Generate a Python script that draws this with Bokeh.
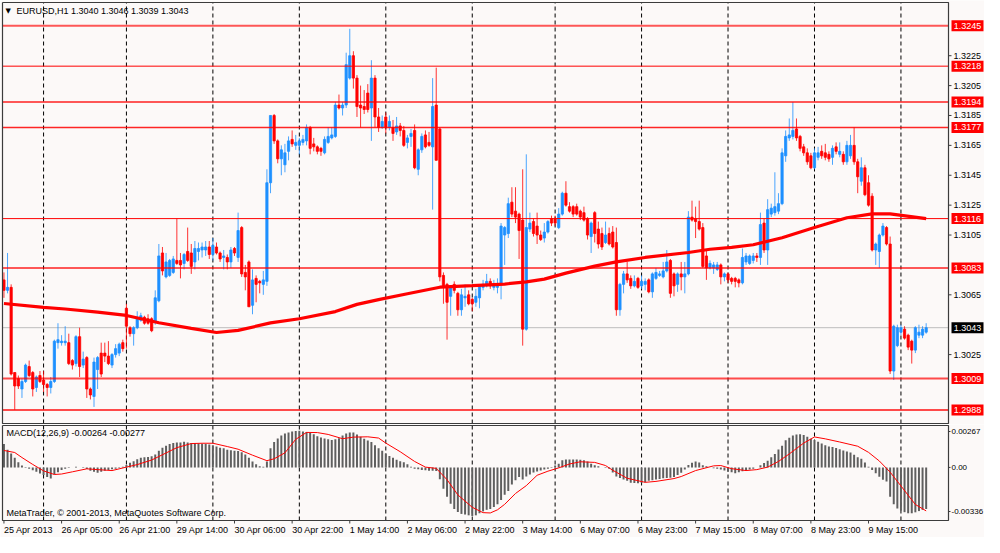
import numpy as np
from bokeh.plotting import figure
from bokeh.models import Range1d
from bokeh.layouts import column
from bokeh.embed import file_html
from bokeh.resources import INLINE
from bokeh.core.properties import value

# ---------------- data (prices in 1e-4 units, e.g. 13043 -> 1.3043) ----------------
symbol = "EURUSD"
timeframe = "H1"

opens = [
    13075, 13068, 13070, 13013, 13009, 13002, 13007, 13017, 13013, 13003,
    13011, 13008, 13005, 13003, 13007, 13033, 13033, 13033, 13033, 13021,
    13019, 13037, 13018, 13023, 13002, 12997, 13015, 13026, 13026, 13024,
    13018, 13025, 13026, 13033, 13056, 13043, 13039, 13043, 13048, 13050,
    13049, 13049, 13047, 13061, 13093, 13077, 13078, 13080, 13088, 13088,
    13086, 13094, 13093, 13087, 13094, 13095, 13095, 13097, 13092, 13097,
    13093, 13090, 13090, 13087, 13096, 13090, 13110, 13080, 13087, 13058,
    13076, 13074, 13072, 13074, 13140, 13185, 13168, 13156, 13152, 13161,
    13169, 13165, 13165, 13167, 13168, 13177, 13166, 13164, 13163, 13160,
    13167, 13170, 13171, 13192, 13190, 13192, 13210, 13225, 13210, 13192,
    13191, 13200, 13190, 13210, 13184, 13177, 13184, 13177, 13177, 13174,
    13178, 13175, 13167, 13171, 13175, 13149, 13162, 13172, 13167, 13164,
    13192, 13176, 13078, 13072, 13064, 13072, 13066, 13055, 13063, 13065,
    13062, 13060, 13063, 13070, 13071, 13074, 13070, 13070, 13072, 13105,
    13106, 13127, 13121, 13119, 13115, 13042, 13109, 13114, 13111, 13105,
    13103, 13107, 13116, 13116, 13110, 13119, 13133, 13124, 13124, 13124,
    13121, 13120, 13116, 13104, 13120, 13109, 13106, 13100, 13106, 13107,
    13100, 13055, 13072, 13079, 13076, 13071, 13076, 13071, 13072, 13075,
    13067, 13076, 13078, 13077, 13081, 13088, 13079, 13072, 13079, 13077,
    13079, 13117, 13116, 13114, 13110, 13091, 13083, 13083, 13082, 13085,
    13077, 13079, 13076, 13076, 13075, 13073, 13087, 13086, 13088, 13091,
    13090, 13113, 13095, 13119, 13120, 13121, 13126, 13158, 13170, 13171,
    13176, 13171, 13164, 13160, 13158, 13150, 13157, 13161, 13160, 13159,
    13157, 13164, 13159, 13159, 13154, 13158, 13165, 13154, 13141, 13150,
    13140, 13131, 13095, 13094, 13105, 13110, 13099, 13014, 13031, 13040,
    13042, 13038, 13034, 13028, 13038, 13038, 13040,
]
highs = [
    13080, 13093, 13072, 13013, 13011, 13009, 13019, 13021, 13014, 13011,
    13014, 13014, 13006, 13010, 13035, 13046, 13038, 13044, 13039, 13022,
    13038, 13043, 13027, 13024, 13003, 13023, 13024, 13033, 13033, 13034,
    13026, 13032, 13033, 13035, 13059, 13044, 13044, 13054, 13053, 13051,
    13052, 13050, 13068, 13099, 13097, 13093, 13089, 13091, 13116, 13093,
    13093, 13110, 13099, 13101, 13100, 13100, 13101, 13101, 13103, 13100,
    13094, 13095, 13092, 13097, 13097, 13120, 13111, 13085, 13088, 13082,
    13078, 13075, 13081, 13149, 13185, 13186, 13169, 13165, 13166, 13171,
    13175, 13172, 13170, 13172, 13179, 13178, 13170, 13165, 13164, 13171,
    13177, 13177, 13194, 13199, 13194, 13227, 13243, 13228, 13212, 13205,
    13202, 13206, 13222, 13212, 13190, 13185, 13187, 13185, 13182, 13184,
    13180, 13178, 13172, 13176, 13179, 13163, 13173, 13175, 13174, 13210,
    13217, 13177, 13080, 13073, 13071, 13074, 13067, 13069, 13072, 13068,
    13063, 13069, 13072, 13075, 13079, 13076, 13075, 13076, 13113, 13111,
    13130, 13137, 13137, 13120, 13149, 13159, 13120, 13116, 13120, 13108,
    13113, 13115, 13118, 13118, 13123, 13134, 13141, 13127, 13125, 13126,
    13122, 13124, 13117, 13114, 13121, 13114, 13110, 13114, 13110, 13111,
    13110, 13073, 13081, 13087, 13078, 13078, 13077, 13078, 13076, 13076,
    13080, 13083, 13081, 13087, 13095, 13089, 13080, 13080, 13087, 13087,
    13121, 13128, 13124, 13128, 13113, 13095, 13088, 13087, 13087, 13086,
    13080, 13080, 13077, 13077, 13076, 13096, 13093, 13092, 13093, 13093,
    13120, 13116, 13129, 13126, 13147, 13133, 13163, 13175, 13183, 13194,
    13183, 13172, 13166, 13163, 13160, 13163, 13164, 13165, 13166, 13161,
    13165, 13167, 13167, 13161, 13168, 13172, 13177, 13156, 13157, 13152,
    13145, 13133, 13100, 13106, 13113, 13111, 13104, 13045, 13045, 13045,
    13044, 13039, 13035, 13044, 13045, 13044, 13046,
]
lows = [
    13063, 13066, 13011, 12988, 13002, 12996, 13006, 13010, 12997, 13000,
    13006, 13000, 12997, 12999, 13006, 13029, 13031, 13031, 13018, 13015,
    13017, 13010, 13016, 12996, 12995, 12990, 13002, 13010, 13020, 13018,
    13016, 13023, 13024, 13027, 13029, 13037, 13031, 13042, 13047, 13045,
    13045, 13040, 13045, 13060, 13078, 13076, 13077, 13079, 13085, 13076,
    13082, 13087, 13079, 13082, 13088, 13090, 13091, 13089, 13088, 13092,
    13087, 13082, 13082, 13083, 13091, 13087, 13077, 13068, 13057, 13052,
    13060, 13066, 13065, 13071, 13133, 13166, 13153, 13145, 13147, 13155,
    13164, 13162, 13159, 13165, 13165, 13159, 13161, 13159, 13158, 13159,
    13166, 13169, 13170, 13189, 13185, 13190, 13209, 13203, 13184, 13177,
    13186, 13187, 13168, 13177, 13174, 13176, 13173, 13175, 13168, 13172,
    13171, 13164, 13163, 13164, 13149, 13145, 13160, 13163, 13164, 13122,
    13155, 13074, 13059, 13035, 13051, 13066, 13051, 13051, 13057, 13058,
    13054, 13057, 13056, 13068, 13070, 13069, 13068, 13066, 13062, 13085,
    13103, 13117, 13113, 13089, 13031, 13041, 13107, 13104, 13099, 13101,
    13100, 13106, 13111, 13111, 13109, 13118, 13124, 13120, 13117, 13118,
    13115, 13114, 13102, 13093, 13100, 13096, 13095, 13099, 13098, 13096,
    13051, 13051, 13066, 13073, 13069, 13070, 13069, 13069, 13068, 13066,
    13063, 13075, 13077, 13076, 13080, 13063, 13064, 13067, 13068, 13066,
    13078, 13114, 13103, 13108, 13083, 13075, 13082, 13079, 13081, 13072,
    13074, 13073, 13072, 13070, 13070, 13072, 13085, 13085, 13086, 13087,
    13085, 13093, 13085, 13117, 13118, 13119, 13125, 13154, 13168, 13169,
    13168, 13161, 13158, 13152, 13149, 13149, 13155, 13156, 13155, 13154,
    13152, 13159, 13157, 13152, 13152, 13156, 13152, 13133, 13138, 13131,
    13124, 13094, 13085, 13083, 13104, 13098, 13012, 13008, 13030, 13038,
    13035, 13028, 13019, 13026, 13036, 13036, 13039,
]
closes = [
    13068, 13070, 13012, 13004, 13004, 13007, 13018, 13011, 13002, 13010,
    13007, 13005, 13003, 13007, 13034, 13035, 13034, 13034, 13019, 13018,
    13037, 13017, 13022, 13002, 12998, 13020, 13023, 13012, 13024, 13019,
    13025, 13029, 13032, 13029, 13044, 13039, 13043, 13050, 13051, 13046,
    13046, 13041, 13063, 13091, 13081, 13087, 13088, 13089, 13086, 13085,
    13092, 13088, 13084, 13096, 13096, 13097, 13097, 13092, 13098, 13093,
    13089, 13091, 13087, 13095, 13093, 13108, 13079, 13077, 13057, 13075,
    13072, 13073, 13075, 13140, 13185, 13168, 13156, 13162, 13160, 13168,
    13166, 13167, 13168, 13169, 13177, 13163, 13164, 13161, 13161, 13169,
    13171, 13172, 13192, 13190, 13192, 13219, 13225, 13210, 13191, 13190,
    13189, 13189, 13210, 13184, 13177, 13181, 13177, 13181, 13173, 13178,
    13175, 13165, 13170, 13173, 13150, 13162, 13171, 13164, 13165, 13191,
    13155, 13077, 13070, 13060, 13070, 13068, 13055, 13065, 13064, 13059,
    13059, 13064, 13071, 13072, 13074, 13071, 13072, 13072, 13111, 13110,
    13126, 13119, 13117, 13108, 13042, 13110, 13113, 13106, 13105, 13102,
    13107, 13114, 13113, 13113, 13119, 13133, 13125, 13121, 13119, 13119,
    13117, 13115, 13105, 13113, 13106, 13099, 13097, 13105, 13099, 13097,
    13055, 13072, 13079, 13075, 13071, 13074, 13070, 13074, 13074, 13067,
    13079, 13080, 13079, 13081, 13087, 13066, 13071, 13079, 13077, 13079,
    13117, 13115, 13114, 13109, 13084, 13083, 13086, 13085, 13085, 13077,
    13079, 13075, 13074, 13074, 13073, 13090, 13091, 13091, 13091, 13090,
    13112, 13095, 13122, 13123, 13124, 13126, 13160, 13171, 13172, 13175,
    13170, 13163, 13160, 13154, 13150, 13160, 13160, 13158, 13157, 13156,
    13163, 13161, 13161, 13154, 13165, 13165, 13154, 13144, 13150, 13132,
    13125, 13095, 13099, 13105, 13111, 13099, 13014, 13044, 13043, 13043,
    13036, 13030, 13028, 13043, 13040, 13042, 13043,
]

# moving average (thick red line), read at bar indices
ma_idx = [0, 11, 17, 26, 34, 43, 52, 59, 65, 74, 82, 92, 98, 104, 112, 121, 130,
          139, 145, 150, 156, 164, 170, 178, 190, 196, 202, 208, 216, 225, 234,
          241, 246, 256]
ma_val = [13059.2, 13056.6, 13055.5, 13053.4, 13051.2, 13046.3, 13042.6, 13039.8,
          13041.2, 13046.2, 13049.0, 13053.8, 13058.6, 13061.8, 13065.7, 13070.1,
          13071.1, 13072.2, 13073.7, 13075.5, 13079.5, 13084.2, 13087.0, 13090.0,
          13093.3, 13095.5, 13096.8, 13098.5, 13103.2, 13110.1, 13116.6, 13119.2,
          13119.2, 13116.0]

# MACD(12,26,9) histogram, one per bar (units of 1e-5)
macd_hist = [
    149, 113, 88, 61, 33, 12, -4, -8, -18, -28,
    -39, -49, -61, -71, -45, -30, -16, -8, -4, 0,
    4, 0, -4, -10, -21, -27, -34, -28, -21, -16,
    -12, -8, -4, 4, 15, 30, 40, 52, 61, 65,
    67, 71, 82, 106, 126, 138, 149, 155, 158, 158,
    164, 158, 155, 155, 152, 150, 149, 146, 142, 134,
    126, 122, 113, 110, 106, 104, 97, 82, 61, 37,
    21, 8, 4, 37, 122, 162, 185, 203, 216, 223,
    229, 232, 234, 229, 225, 219, 211, 199, 191, 185,
    179, 174, 179, 186, 203, 216, 223, 223, 209, 195,
    183, 171, 162, 142, 122, 106, 89, 73, 61, 49,
    40, 33, 21, 4, -8, -12, -16, -18, -21, -21,
    -22, -75, -136, -186, -232, -264, -284, -296, -300, -305,
    -309, -305, -292, -280, -270, -264, -252, -235, -207, -174,
    -150, -109, -81, -61, -77, -57, -45, -32, -26, -20,
    -14, -8, 2, 12, 24, 45, 51, 51, 51, 51,
    49, 45, 37, 24, 14, 8, 0, -4, -8, -32,
    -57, -67, -77, -85, -97, -99, -101, -97, -95, -85,
    -81, -77, -73, -69, -67, -65, -61, -49, -34, -14,
    16, 30, 37, 32, 14, 8, 0, -6, -8, -14,
    -20, -28, -30, -37, -30, -24, -20, -14, -8, 0,
    14, 28, 43, 65, 85, 114, 138, 173, 189, 203,
    209, 211, 207, 195, 183, 175, 164, 152, 142, 134,
    130, 124, 116, 108, 101, 95, 81, 65, 55, 32,
    4, -16, -37, -59, -79, -89, -187, -235, -262, -275,
    -285, -292, -292, -286, -278, -270, -264,
]
# MACD signal line (units of 1e-5), read at bar indices
sig_idx = [0, 3, 5, 8, 11, 14, 16, 19, 23, 26, 30, 34, 37, 41, 45, 48, 52, 55, 58, 62,
           65, 69, 73, 75, 78, 81, 84, 87, 90, 94, 97, 101, 104, 106, 110, 114, 117, 120, 123, 126,
           130, 133, 135, 137, 139, 142, 145, 148, 151, 154, 157, 160, 164, 167, 169, 173, 178, 181, 186, 188,
           192, 197, 199, 202, 206, 209, 212, 215, 218, 222, 225, 228, 232, 237, 240, 243, 246, 249, 253, 256]
sig_val = [108, 95, 63, 19, -22, -45, -42, -28, -9, -14, -20, 2, 18, 47, 92, 126, 152, 154, 154, 133,
           116, 78, 43, 55, 93, 179, 223, 222, 210, 183, 193, 195, 187, 155, 100, 38, 2, -6, -78, -175,
           -254, -288, -290, -270, -235, -166, -116, -50, -24, -3, 22, 36, 32, 12, -18, -69, -95, -89, -71, -58,
           -20, 10, 12, -8, -20, -14, 2, 38, 86, 155, 194, 182, 162, 135, 96, 41, -30, -118, -236, -277]
macd_scale = [0.00267, 0.0, -0.00336]

# horizontal levels and price axis ticks
level_prices = [1.3245, 1.3218, 1.3194, 1.3177, 1.3116, 1.3083, 1.3009, 1.2988]
price_ticks = [1.3225, 1.3205, 1.3185, 1.3165, 1.3145, 1.3125, 1.3105, 1.3065, 1.3025]

# time axis
time_tick_idx = [0, 16, 32, 48, 64, 80, 96, 112, 128, 144, 160, 176, 192, 208, 224, 240]
time_tick_labels = ["25 Apr 2013", "26 Apr 05:00", "26 Apr 21:00", "29 Apr 14:00",
                    "30 Apr 06:00", "30 Apr 22:00", "1 May 14:00", "2 May 06:00",
                    "2 May 22:00", "3 May 14:00", "6 May 07:00", "6 May 23:00",
                    "7 May 15:00", "8 May 07:00", "8 May 23:00", "9 May 15:00"]
day_start_idx = [11, 34, 58, 82, 106, 130, 153, 177, 201, 225, 249]

# ---------------- styles / layout ----------------
FONT = "Liberation Sans"
BG = "#FCF9F8"
FRAME = "#3C3C3C"
BULL = "#1E90FF"
BEAR = "#FF0000"
W, H1, H2 = 984, 424, 113
level_widths = [2, 1, 2, 1.5, 1, 2, 2, 2]
level_alphas = [0.65, 1, 0.65, 0.85, 1, 0.65, 0.7, 0.7]

# chart area: pixels 2..948 horizontally, right 36 px = price scale
X0, X1 = -0.4, 262.2
PXB = 946.0 / (X1 - X0)
XL, XR = X0 - 2 / PXB, X1 + 36 / PXB

P0, P1 = 1.29789, 1.32606
PXP = 421.0 / (P1 - P0)
M0, M1 = -0.00338, 0.00267
PXM = 95.0 / (M1 - M0)

o = np.array(opens) / 1e4
h = np.array(highs) / 1e4
l = np.array(lows) / 1e4
c = np.array(closes) / 1e4
hi = np.maximum(np.maximum(h, o), c)
lo = np.minimum(np.minimum(l, o), c)
x = np.arange(len(c))
cols = np.where(c >= o, BULL, BEAR).tolist()

xr = Range1d(XL, XR)


def make_fig(height, y0, y1):
    p = figure(width=W, height=height, x_range=xr, y_range=Range1d(y0, y1),
               output_backend="svg", toolbar_location=None,
               x_axis_location=None, y_axis_location=None,
               min_border=0, min_border_left=0, min_border_right=0,
               min_border_top=0, min_border_bottom=0,
               background_fill_color=BG, border_fill_color=BG,
               outline_line_color=None)
    p.xgrid.visible = False
    p.ygrid.visible = False
    return p


def txt(p, xs, ys, texts, align="left", baseline="middle", color="black",
        size="9px", font=FONT):
    p.text(x=xs, y=ys, text=texts, text_font=value(font), text_font_size=value(size),
           text_color=color, text_align=align, text_baseline=baseline)


def frame_box(p, ybot, ytop):
    p.line([X0, X1, X1, X0, X0], [ytop, ytop, ybot, ybot, ytop],
           line_color=FRAME, line_width=1.2)


def day_lines(p, ybot, ytop):
    p.segment(x0=day_start_idx, y0=[ybot] * len(day_start_idx),
              x1=day_start_idx, y1=[ytop] * len(day_start_idx),
              line_color="black", line_width=1, line_dash="4 3")


# ---------------- main price panel ----------------
p1 = make_fig(H1, P0 - 1 / PXP, P1 + 2 / PXP)
day_lines(p1, P0, P1)
p1.segment(x0=[X0], y0=[c[-1]], x1=[X1], y1=[c[-1]], line_color="#BDBDBD", line_width=1)

p1.segment(x0=x, y0=hi, x1=x, y1=lo, line_color=cols, line_width=1, line_alpha=0.8)
p1.vbar(x=x, width=0.62, top=np.maximum(o, c), bottom=np.minimum(o, c),
        fill_color=cols, line_color=cols, line_width=0.8)
p1.line(ma_idx, np.array(ma_val) / 1e4, line_color="#FF0000", line_width=3.2)

for lv, lw, la in zip(level_prices, level_widths, level_alphas):
    p1.segment(x0=[X0], y0=[lv], x1=[X1], y1=[lv], line_color="#FF0000",
               line_width=lw, line_alpha=la)

frame_box(p1, P0, P1)

# price scale ticks and labels
p1.segment(x0=[X1] * len(price_ticks), y0=price_ticks,
           x1=[X1 + 3 / PXB] * len(price_ticks), y1=price_ticks,
           line_color=FRAME, line_width=1)
txt(p1, [X1 + 5 / PXB] * len(price_ticks), price_ticks, [f"{t:.4f}" for t in price_ticks])

# level price boxes
box_l, box_r = X1 + 3 / PXB, X1 + 35 / PXB
p1.quad(left=[box_l] * len(level_prices), right=[box_r] * len(level_prices),
        bottom=[v - 5.5 / PXP for v in level_prices], top=[v + 5.5 / PXP for v in level_prices],
        fill_color="#FF0000", line_color=None)
txt(p1, [X1 + 19 / PXB] * len(level_prices), level_prices,
    [f"{v:.4f}" for v in level_prices], align="center", color="white")
p1.quad(left=[box_l], right=[box_r], bottom=[c[-1] - 5.5 / PXP], top=[c[-1] + 5.5 / PXP],
        fill_color="#000000", line_color=None)
txt(p1, [X1 + 19 / PXB], [c[-1]], [f"{c[-1]:.4f}"], align="center", color="white")

# chart title
ty = P1 - 8 / PXP
txt(p1, [X0 + 3 / PXB], [ty], ["\u25BC"], size="7px", font="DejaVu Sans")
title = f"{symbol},{timeframe}  {o[-1]:.4f} {hi[-1]:.4f} {lo[-1]:.4f} {c[-1]:.4f}"
txt(p1, [X0 + 14 / PXB], [ty], [title])

# ---------------- MACD panel ----------------
p2 = make_fig(H2, M0 - 17 / PXM, M1 + 1 / PXM)
day_lines(p2, M0, M1)
p2.vbar(x=x, width=0.55, top=np.array(macd_hist) * 1e-5, bottom=0,
        fill_color="#5F5F5F", line_color=None)
p2.line(sig_idx, np.array(sig_val) * 1e-5, line_color="#FF0000", line_width=1)
frame_box(p2, M0, M1)

macd_text = f"MACD(12,26,9) {macd_hist[-1] * 1e-5:.5f} {sig_val[-1] * 1e-5:.5f}"
txt(p2, [X0 + 4 / PXB], [M1 - 7 / PXM], [macd_text])
txt(p2, [X0 + 4 / PXB], [M0 + 8 / PXM],
    ["MetaTrader, \u00A9 2001-2013, MetaQuotes Software Corp."])

scale_y = [M1 - 6 / PXM, 0.0, M0 + 9 / PXM]
p2.segment(x0=[X1] * 3, y0=scale_y, x1=[X1 + 2 / PXB] * 3, y1=scale_y,
           line_color=FRAME, line_width=1)
txt(p2, [X1 + 3 / PXB] * 3, scale_y,
    [f"{v:.5f}" if v != 0 else "0.00" for v in macd_scale], size="8px")

# time axis
nt = len(time_tick_idx)
p2.segment(x0=time_tick_idx, y0=[M0] * nt, x1=time_tick_idx, y1=[M0 - 3 / PXM] * nt,
           line_color=FRAME, line_width=1)
txt(p2, time_tick_idx, [M0 - 4 / PXM] * nt, time_tick_labels, baseline="top")

layout = column(p1, p2, spacing=0)
open("out.html", "w").write(file_html(layout, INLINE))
